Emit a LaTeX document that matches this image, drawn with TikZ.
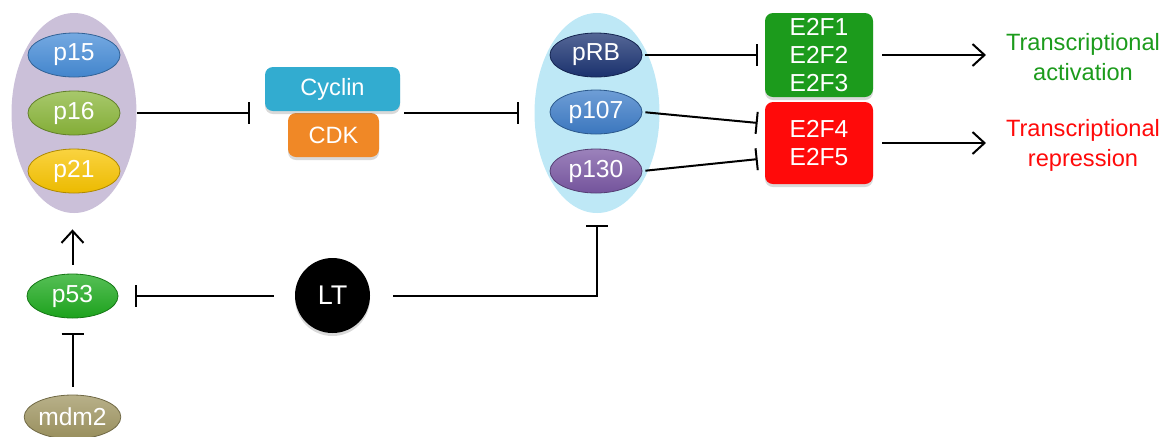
\documentclass[tikz,border=0pt]{standalone}
\usepackage{fontspec}
\setmainfont{Liberation Sans}
\usetikzlibrary{positioning,arrows.meta,shapes.geometric,shadows}

\definecolor{grpcol}{RGB}{203,192,217}
\definecolor{rbgrpcol}{RGB}{190,232,246}
\definecolor{pfifcol}{RGB}{70,140,215}
\definecolor{psixcol}{RGB}{138,182,58}
\definecolor{ptwocol}{RGB}{248,196,0}
\definecolor{prbcol}{RGB}{28,52,115}
\definecolor{psevcol}{RGB}{62,125,200}
\definecolor{pthrcol}{RGB}{122,88,164}
\definecolor{pfivcol}{RGB}{30,170,30}
\definecolor{mdmcol}{RGB}{160,150,98}
\definecolor{cyccol}{RGB}{50,172,208}
\definecolor{cdkcol}{RGB}{240,136,38}
\definecolor{actcol}{RGB}{28,155,28}
\definecolor{repcol}{RGB}{255,10,10}

\begin{document}
\begin{tikzpicture}[
			x=0.5pt,y=-0.5pt,
			font=\fontsize{11.8}{13.5}\selectfont,
			grp/.style={ellipse,minimum width=62.5pt,minimum height=100pt,inner sep=0pt,
				fill=#1},
			prot/.style={ellipse,minimum width=46pt,minimum height=22pt,inner sep=0pt,
				font=\fontsize{12.3}{14}\selectfont,text=white,
				top color=#1!75!white,bottom color=#1!95!black,draw=#1!70!black},
			box/.style={rectangle,rounded corners=4pt,inner sep=0pt,text=white,fill=#1,
				drop shadow={shadow xshift=0pt,shadow yshift=-1.5pt,opacity=0.3}},
			inh/.style={-{Bar[width=11pt]},line width=1pt},
			act/.style={-{Straight Barb[length=6pt,width=11pt]},line width=1pt},
			]
			\useasboundingbox (0,0) rectangle (1168,436);
			
			% CDK inhibitors
			\node[grp=grpcol] (grp1) at (74,113) {};
			\node[prot=pfifcol] (p15) at (74,55) {p15};
			\node[prot=psixcol] (p16) at (74,113) {p16};
			\node[prot=ptwocol] (p21) at (74,171) {p21};
			
			% Cyclin / CDK complex
			\node[box=cdkcol,minimum width=45.5pt,minimum height=22pt] (cdk) at (333.5,135) {CDK};
			\node[box=cyccol,minimum width=67.5pt,minimum height=22pt] (cyclin) at (332.5,89) {Cyclin};
			
			% Pocket proteins
			\node[grp=rbgrpcol] (rbgrp) at (597,113) {};
			\node[prot=prbcol] (prb) at (596,55) {pRB};
			\node[prot=psevcol] (p107) at (596,112) {p107};
			\node[prot=pthrcol] (p130) at (596,171) {p130};
			
			% E2F factors
			\node[box=actcol,minimum width=54pt,minimum height=42pt,align=center,
				font=\fontsize{12.3}{14}\selectfont] (e2fa) at (819,55) {E2F1\\E2F2\\E2F3};
			\node[box=repcol,minimum width=54pt,minimum height=41pt,align=center,
				font=\fontsize{12.3}{14}\selectfont] (e2fr) at (819,143) {E2F4\\E2F5};
			
			% Outcomes
			\node[text=actcol,align=center,font=\fontsize{11.8}{15}\selectfont] (tact) at (1083,57)
			{Transcriptional\\activation};
			\node[text=repcol,align=center,font=\fontsize{11.8}{15}\selectfont] (trep) at (1083,145)
			{Transcriptional\\repression};
			
			% p53 axis
			\node[prot=pfivcol,minimum width=45.5pt] (p53) at (72.5,296) {p53};
			\node[prot=mdmcol,minimum width=45.5pt] (mdm2) at (72.5,417) {mdm2};
			\node[circle,fill=black,minimum size=37.5pt,inner sep=0pt,text=white,
				font=\fontsize{13.5}{15}\selectfont,
				drop shadow={shadow xshift=0pt,shadow yshift=-1.5pt,opacity=0.3}] (lt) at (332.5,295.5) {LT};
			
			% Connections
			\draw[inh,shorten >=7.5pt] (p16.east -| grp1.east) -- (p16.east -| cyclin.west);
			\draw[inh,shorten <=2pt,shorten >=7.5pt] (p16.east -| cyclin.east) -- (p16.east -| rbgrp.west);
			
			\draw[inh,shorten <=1.5pt,shorten >=3.5pt] (prb.east) -- (prb.east -| e2fa.west);
			\draw[inh,shorten <=1.5pt,shorten >=3.5pt] (p107.east) -- ([yshift=9.7pt]e2fr.west);
			\draw[inh,shorten <=1.5pt,shorten >=3.5pt] (p130.east) -- ([yshift=-7.7pt]e2fr.west);
			
			\draw[act,shorten <=4.5pt,shorten >=6.5pt] (e2fa.east) -- (e2fa.east -| tact.west);
			\draw[act,shorten <=4.5pt,shorten >=6.5pt] (e2fr.east) -- (e2fr.east -| trep.west);
			
			\draw[act,shorten <=4.5pt,shorten >=8pt] (p53.north) -- (p53.north |- grp1.south);
			\draw[inh,shorten <=4pt,shorten >=7.5pt] (mdm2.north) -- (p53.south);
			\draw[inh,shorten <=10.5pt,shorten >=8.5pt] (lt.west) -- (lt.west -| p53.east);
			\draw[inh,shorten <=11.5pt,shorten >=6pt] (lt.east) -| (rbgrp.south);
			
		\end{tikzpicture}
\end{document}
